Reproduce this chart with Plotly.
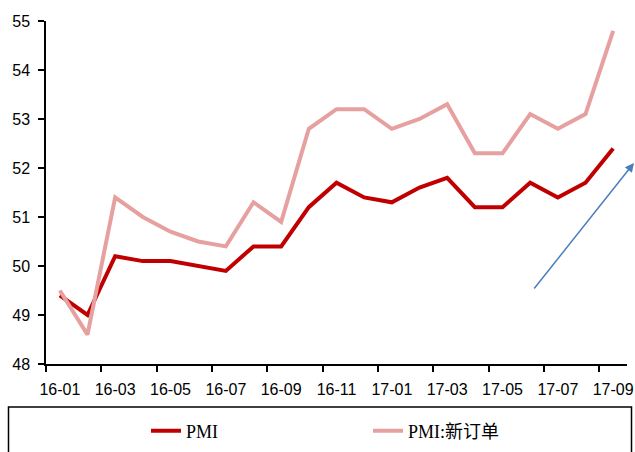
import plotly.graph_objects as go

# Monthly categories, Jan 2016 - Sep 2017
months = ["16-01", "16-02", "16-03", "16-04", "16-05", "16-06", "16-07",
          "16-08", "16-09", "16-10", "16-11", "16-12", "17-01", "17-02",
          "17-03", "17-04", "17-05", "17-06", "17-07", "17-08", "17-09"]

pmi = [49.4, 49.0, 50.2, 50.1, 50.1, 50.0, 49.9, 50.4, 50.4, 51.2, 51.7,
       51.4, 51.3, 51.6, 51.8, 51.2, 51.2, 51.7, 51.4, 51.7, 52.4]

pmi_new_orders = [49.5, 48.6, 51.4, 51.0, 50.7, 50.5, 50.4, 51.3, 50.9, 52.8,
                  53.2, 53.2, 52.8, 53.0, 53.3, 52.3, 52.3, 53.1, 52.8, 53.1, 54.8]

y_ticks = [48, 49, 50, 51, 52, 53, 54, 55]

W, H = 635, 452
L, R, T, B = 46, 8, 21, 88
pw, ph = W - L - R, H - T - B

def px_x(p):
    return (p - L) / pw

def px_y(p):
    return (H - B - p) / ph

idx = list(range(len(months)))
label_idx = idx[::2]
boundaries = [i - 0.5 for i in label_idx]

fig = go.Figure()
fig.add_trace(go.Scatter(
    x=idx, y=pmi, name="PMI", mode="lines",
    line=dict(color="#C00000", width=4),
))
fig.add_trace(go.Scatter(
    x=idx, y=pmi_new_orders, name="PMI:新订单", mode="lines",
    line=dict(color="#E6A0A0", width=4),
))

tick_font = dict(family="Liberation Sans, Arial", size=16, color="#000000")

fig.update_layout(
    width=W, height=H,
    margin=dict(l=L, r=R, t=T, b=B, pad=0, autoexpand=False),
    paper_bgcolor="white", plot_bgcolor="white",
    showlegend=True,
    legend=dict(
        orientation="h", xref="container", yref="container",
        x=146 / W, y=1 - 431 / H, xanchor="left", yanchor="middle",
        font=dict(family="Liberation Serif, Times New Roman, Noto Sans CJK SC",
                  size=18, color="#000000"),
        entrywidth=177, entrywidthmode="pixels",
        bgcolor="rgba(0,0,0,0)", borderwidth=0,
    ),
    xaxis=dict(
        range=[-0.5, len(months) - 0.5], automargin=False,
        tickmode="array", tickvals=label_idx,
        ticktext=[months[i] for i in label_idx],
        ticks="", showgrid=False, zeroline=False,
        showline=True, linecolor="#000000", linewidth=1.5,
        tickfont=tick_font, ticklabelstandoff=10,
        minor=dict(tickmode="array", tickvals=boundaries, ticks="outside",
                   ticklen=6, tickwidth=1.5, tickcolor="#000000", showgrid=False),
        fixedrange=True,
    ),
    yaxis=dict(
        range=[48, 55], automargin=False, tickmode="array", tickvals=y_ticks,
        ticks="outside", ticklen=6, tickwidth=1.5, tickcolor="#000000",
        showgrid=False, zeroline=False,
        showline=True, linecolor="#000000", linewidth=1.5,
        tickfont=tick_font, ticklabelstandoff=5,
        fixedrange=True,
    ),
    shapes=[dict(
        type="rect", xref="paper", yref="paper",
        x0=px_x(8.5), x1=px_x(631.5), y0=px_y(460), y1=px_y(407),
        line=dict(color="#000000", width=1.5), fillcolor="rgba(0,0,0,0)",
    )],
    annotations=[dict(
        xref="paper", yref="paper", x=px_x(634), y=px_y(163),
        axref="pixel", ayref="pixel", ax=533 - 634, ay=290 - 163,
        text="", showarrow=True, arrowhead=2, arrowsize=1.2,
        arrowwidth=1.5, arrowcolor="#4A7EBB",
    )],
)

fig.write_html("out.html")
